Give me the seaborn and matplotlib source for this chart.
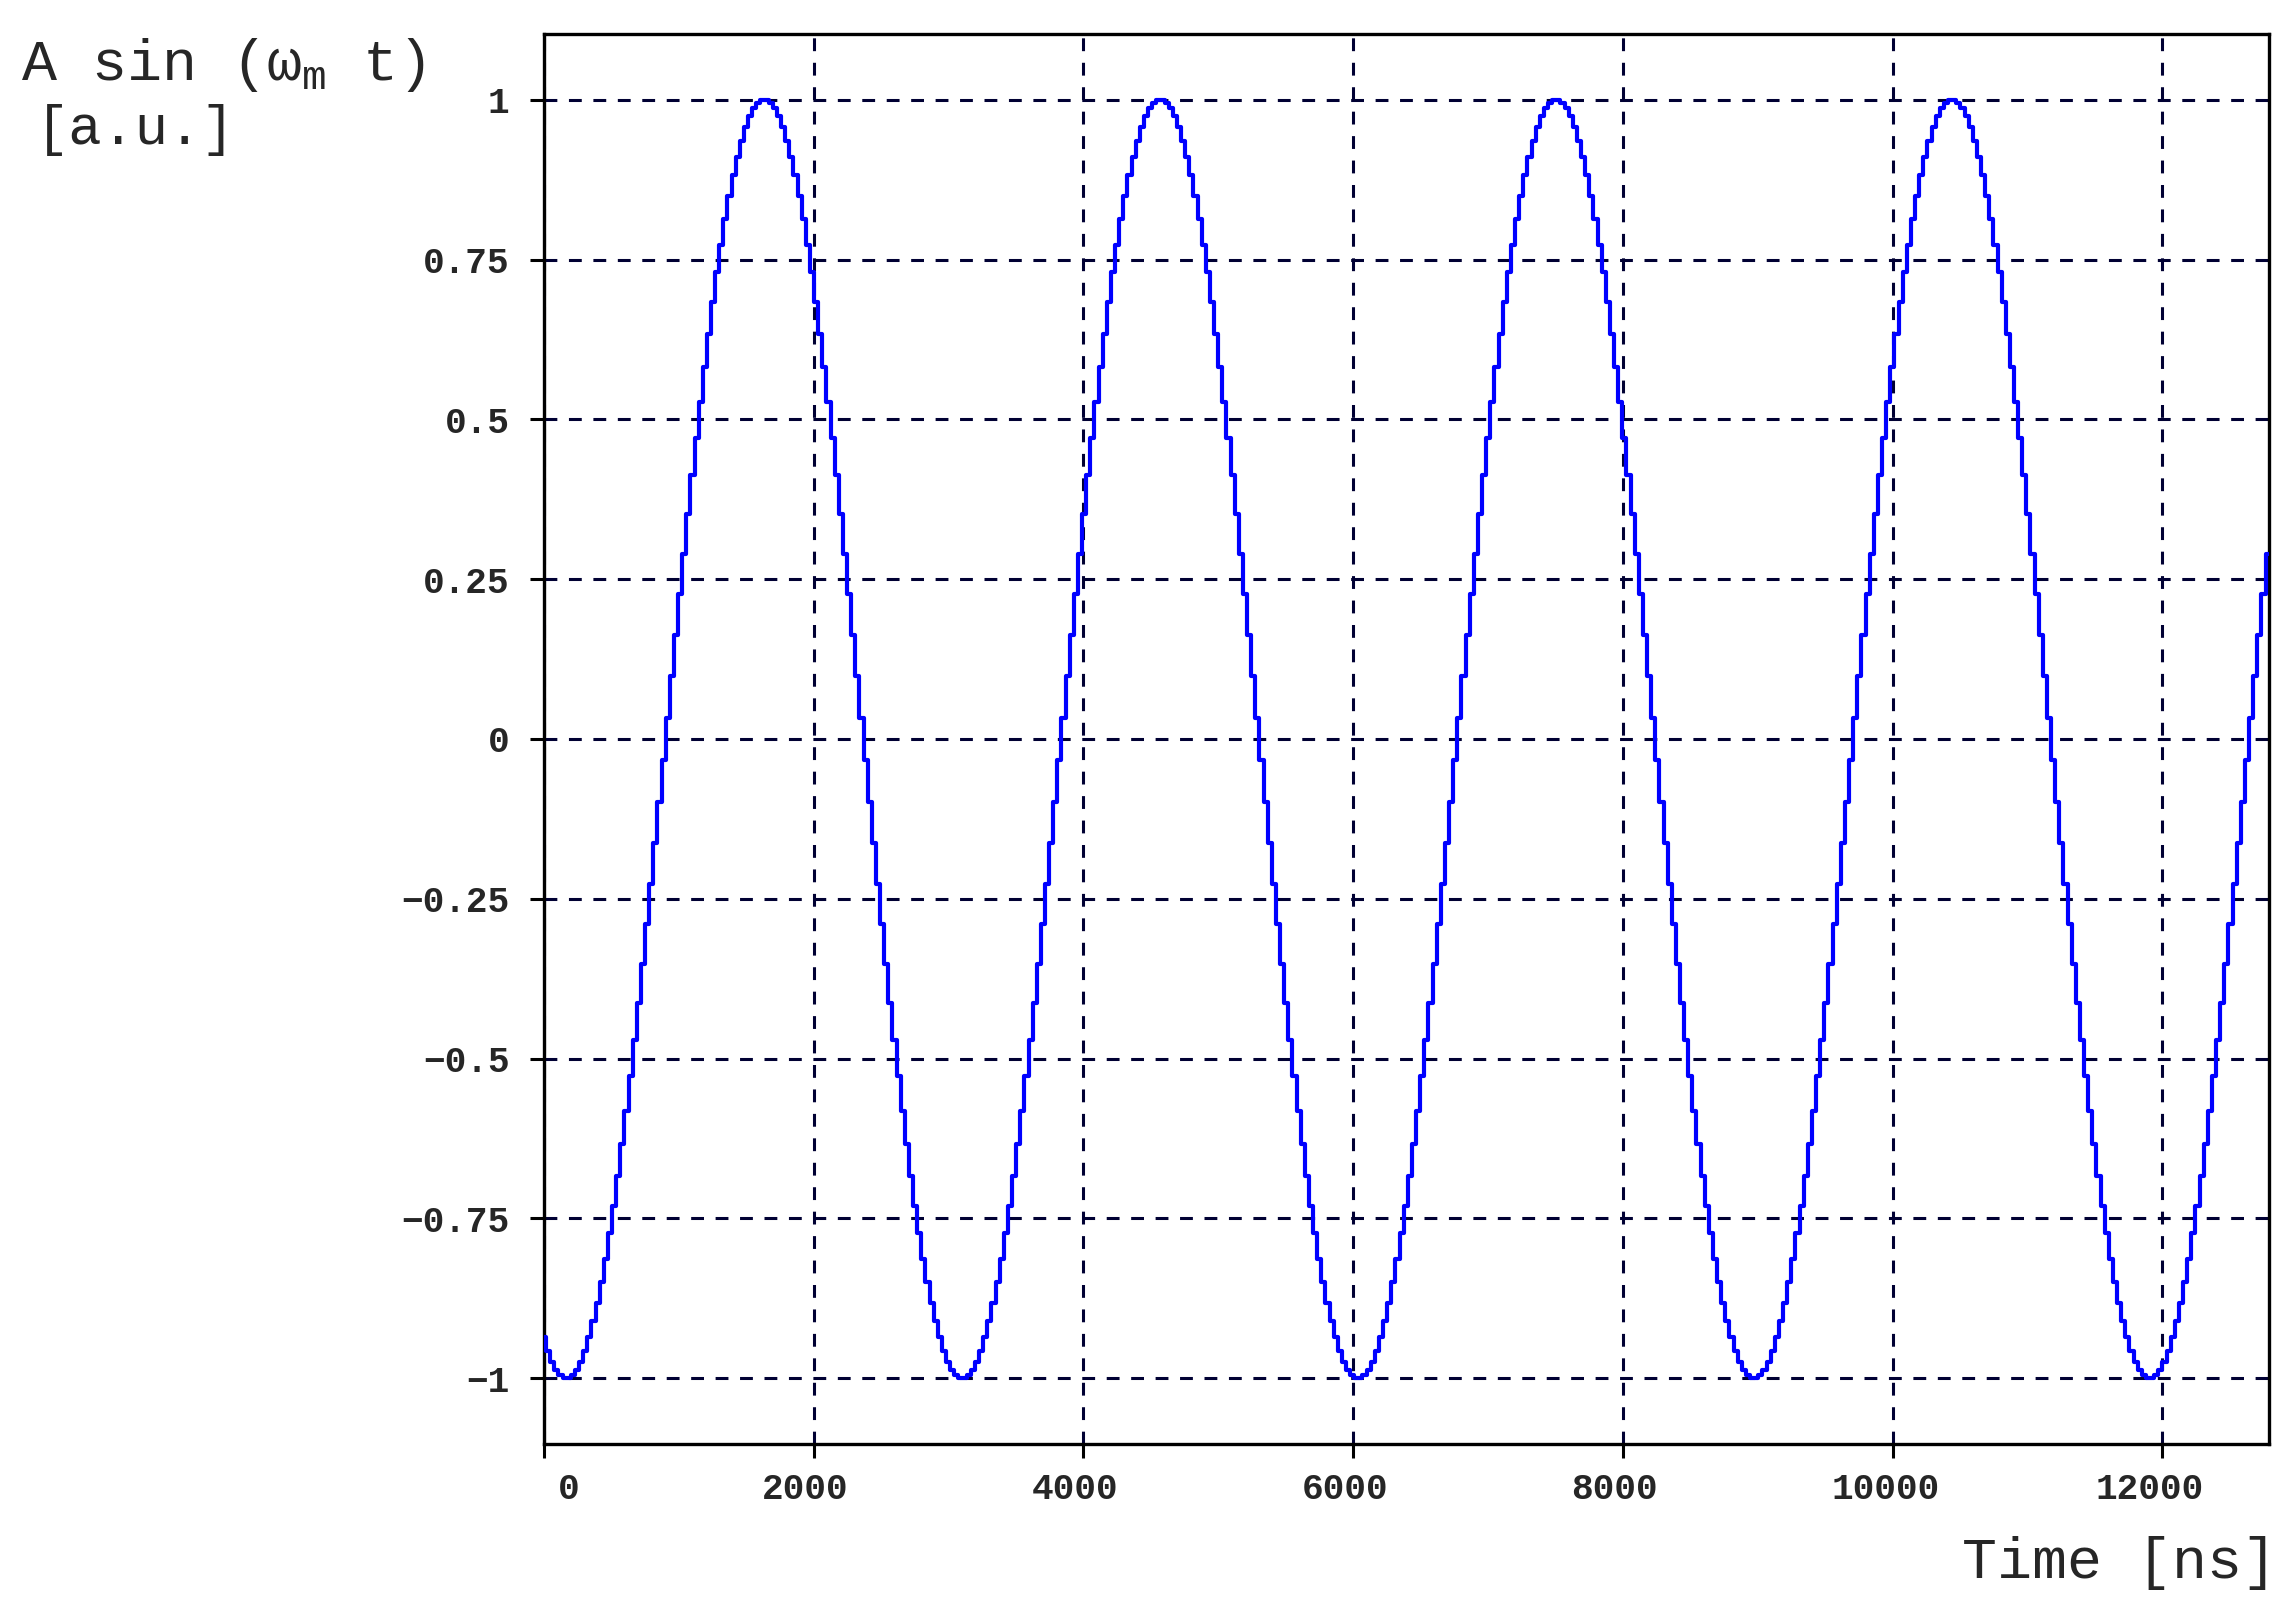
import numpy as np
import pandas as pd
import matplotlib
matplotlib.use("Agg")
import matplotlib.pyplot as plt
import matplotlib.transforms as mtransforms
import seaborn as sns

# ---------------- data ----------------
sample_interval_ns = 30.573  # width of one staircase step

amplitude = [
    -0.936, -0.957, -0.974, -0.987, -0.995, -0.999,
    -0.999, -0.995, -0.987, -0.974, -0.957, -0.936, -0.911, -0.882, -0.849, -0.813, -0.773, -0.730, -0.684, -0.634, -0.582, -0.528, -0.471, -0.413, -0.352, -0.290, -0.227, -0.163, -0.098, -0.033,
    0.033, 0.098, 0.163, 0.227, 0.290, 0.352, 0.413, 0.471, 0.528, 0.582, 0.634, 0.684, 0.730, 0.773, 0.813, 0.849, 0.882, 0.911, 0.936, 0.957, 0.974, 0.987, 0.995, 0.999,
    0.999, 0.995, 0.987, 0.974, 0.957, 0.936, 0.911, 0.882, 0.849, 0.813, 0.773, 0.730, 0.684, 0.634, 0.582, 0.528, 0.471, 0.413, 0.352, 0.290, 0.227, 0.163, 0.098, 0.033,
    -0.033, -0.098, -0.163, -0.227, -0.290, -0.352, -0.413, -0.471, -0.528, -0.582, -0.634, -0.684, -0.730, -0.773, -0.813, -0.849, -0.882, -0.911, -0.936, -0.957, -0.974, -0.987, -0.995, -0.999,
    -0.999, -0.995, -0.987, -0.974, -0.957, -0.936, -0.911, -0.882, -0.849, -0.813, -0.773, -0.730, -0.684, -0.634, -0.582, -0.528, -0.471, -0.413, -0.352, -0.290, -0.227, -0.163, -0.098, -0.033,
    0.033, 0.098, 0.163, 0.227, 0.290, 0.352, 0.413, 0.471, 0.528, 0.582, 0.634, 0.684, 0.730, 0.773, 0.813, 0.849, 0.882, 0.911, 0.936, 0.957, 0.974, 0.987, 0.995, 0.999,
    0.999, 0.995, 0.987, 0.974, 0.957, 0.936, 0.911, 0.882, 0.849, 0.813, 0.773, 0.730, 0.684, 0.634, 0.582, 0.528, 0.471, 0.413, 0.352, 0.290, 0.227, 0.163, 0.098, 0.033,
    -0.033, -0.098, -0.163, -0.227, -0.290, -0.352, -0.413, -0.471, -0.528, -0.582, -0.634, -0.684, -0.730, -0.773, -0.813, -0.849, -0.882, -0.911, -0.936, -0.957, -0.974, -0.987, -0.995, -0.999,
    -0.999, -0.995, -0.987, -0.974, -0.957, -0.936, -0.911, -0.882, -0.849, -0.813, -0.773, -0.730, -0.684, -0.634, -0.582, -0.528, -0.471, -0.413, -0.352, -0.290, -0.227, -0.163, -0.098, -0.033,
    0.033, 0.098, 0.163, 0.227, 0.290, 0.352, 0.413, 0.471, 0.528, 0.582, 0.634, 0.684, 0.730, 0.773, 0.813, 0.849, 0.882, 0.911, 0.936, 0.957, 0.974, 0.987, 0.995, 0.999,
    0.999, 0.995, 0.987, 0.974, 0.957, 0.936, 0.911, 0.882, 0.849, 0.813, 0.773, 0.730, 0.684, 0.634, 0.582, 0.528, 0.471, 0.413, 0.352, 0.290, 0.227, 0.163, 0.098, 0.033,
    -0.033, -0.098, -0.163, -0.227, -0.290, -0.352, -0.413, -0.471, -0.528, -0.582, -0.634, -0.684, -0.730, -0.773, -0.813, -0.849, -0.882, -0.911, -0.936, -0.957, -0.974, -0.987, -0.995, -0.999,
    -0.999, -0.995, -0.987, -0.974, -0.957, -0.936, -0.911, -0.882, -0.849, -0.813, -0.773, -0.730, -0.684, -0.634, -0.582, -0.528, -0.471, -0.413, -0.352, -0.290, -0.227, -0.163, -0.098, -0.033,
    0.033, 0.098, 0.163, 0.227, 0.290, 0.352, 0.413, 0.471, 0.528, 0.582, 0.634, 0.684, 0.730, 0.773, 0.813, 0.849, 0.882, 0.911, 0.936, 0.957, 0.974, 0.987, 0.995, 0.999,
    0.999, 0.995, 0.987, 0.974, 0.957, 0.936, 0.911, 0.882, 0.849, 0.813, 0.773, 0.730, 0.684, 0.634, 0.582, 0.528, 0.471, 0.413, 0.352, 0.290, 0.227, 0.163, 0.098, 0.033,
    -0.033, -0.098, -0.163, -0.227, -0.290, -0.352, -0.413, -0.471, -0.528, -0.582, -0.634, -0.684, -0.730, -0.773, -0.813, -0.849, -0.882, -0.911, -0.936, -0.957, -0.974, -0.987, -0.995, -0.999,
    -0.999, -0.995, -0.987, -0.974, -0.957, -0.936, -0.911, -0.882, -0.849, -0.813, -0.773, -0.730, -0.684, -0.634, -0.582, -0.528, -0.471, -0.413, -0.352, -0.290, -0.227, -0.163, -0.098, -0.033,
    0.033, 0.098, 0.163, 0.227, 0.290,
]

x_ticks = [0, 2000, 4000, 6000, 8000, 10000, 12000]
x_tick_labels = ["0", "2000", "4000", "6000", "8000", "10000", "12000"]
y_ticks = [-1, -0.75, -0.5, -0.25, 0, 0.25, 0.5, 0.75, 1]
y_tick_labels = ["\u22121", "\u22120.75", "\u22120.5", "\u22120.25", "0", "0.25", "0.5", "0.75", "1"]
x_limits = (0, 12790)
y_limits = (-1.103, 1.103)

ylabel_line1 = r"A sin (ω$_\mathrm{m}$ t)"
ylabel_line2 = "[a.u.]"
xlabel_text = "Time [ns]"

# ---------------- style ----------------
sns.set_style("white")
plt.rcParams["font.family"] = ["Liberation Mono", "DejaVu Sans Mono"]
plt.rcParams["mathtext.fontset"] = "custom"
plt.rcParams["mathtext.rm"] = "Liberation Mono"
plt.rcParams["mathtext.it"] = "Liberation Mono"
plt.rcParams["axes.unicode_minus"] = True

W, H = 2296, 1613
fig = plt.figure(figsize=(W / 100, H / 100), dpi=100)
fig.patch.set_facecolor("white")
ax = fig.add_axes([544 / W, 1 - 1444 / H, (2269 - 544) / W, (1444 - 34) / H])

df = pd.DataFrame({
    "time": np.arange(len(amplitude)) * sample_interval_ns,
    "amplitude": amplitude,
})
sns.lineplot(data=df, x="time", y="amplitude", ax=ax, estimator=None,
             color="#0000ff", linewidth=3.0, drawstyle="steps-mid", zorder=3)

ax.set_xlim(*x_limits)
ax.set_ylim(*y_limits)
ax.set_xticks(x_ticks, labels=x_tick_labels, fontsize=26, fontweight="bold")
ax.set_yticks(y_ticks, labels=y_tick_labels, fontsize=26, fontweight="bold")
ax.set_xlabel("")
ax.set_ylabel("")

ax.set_axisbelow(True)
ax.grid(True, color="#000033", linewidth=2.2, linestyle=(0, (4.2, 3.8)))

for s in ax.spines.values():
    s.set_visible(True)
    s.set_color("black")
    s.set_linewidth(2.4)

ax.tick_params(axis="both", direction="out", length=10, width=2.2, color="black",
               bottom=True, left=True, top=False, right=False)
ax.tick_params(axis="y", pad=15)
ax.tick_params(axis="x", pad=10)

# small horizontal offsets of the x tick labels, as in the reference
x_label_shift_pt = [18, -6, -6, -6, -6, -5, -9]
for lbl, dx in zip(ax.get_xticklabels(), x_label_shift_pt):
    lbl.set_transform(lbl.get_transform() +
                      mtransforms.ScaledTranslation(dx / 72, 0, fig.dpi_scale_trans))

fig.text(21 / W, 1 - 80 / H, ylabel_line1, fontsize=42, ha="left", va="baseline")
fig.text(36 / W, 1 - 144 / H, ylabel_line2, fontsize=40, ha="left", va="baseline")
fig.text(2277 / W, 1 - 1578 / H, xlabel_text, fontsize=42, ha="right", va="baseline")

fig.savefig("out.png", dpi=100, facecolor="white")
